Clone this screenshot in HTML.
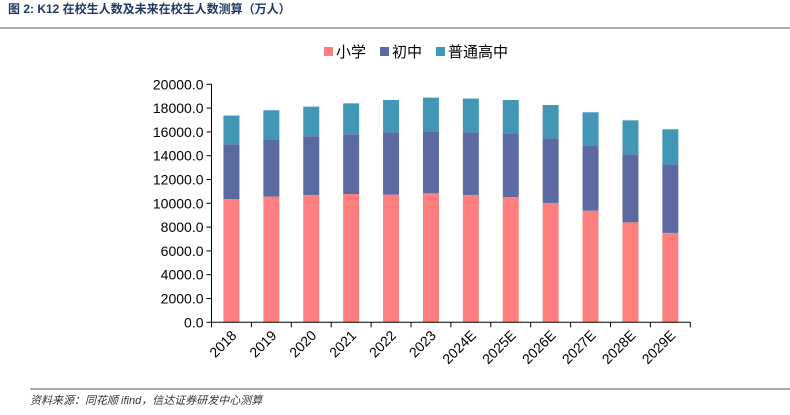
<!DOCTYPE html>
<html><head><meta charset="utf-8"><style>
body{margin:0;background:#fff;width:790px;height:415px;overflow:hidden;font-family:"Liberation Sans","Noto Sans CJK SC",sans-serif}
</style></head><body>
<svg id="c" width="790" height="415" style="position:absolute;left:0;top:0">
<text x="8" y="13" font-size="12" font-weight="bold" fill="#1f3864" font-family="Liberation Sans,Noto Sans CJK SC,sans-serif">图 2:  K12 在校生人数及未来在校生人数测算（万人）</text>
<line x1="0" y1="28" x2="790" y2="28" stroke="#555" stroke-width="1"/>
<line x1="30" y1="389" x2="790" y2="389" stroke="#555" stroke-width="1"/>
<text x="30" y="404" font-size="11" font-style="italic" fill="#333">资料来源：同花顺 ifind，信达证券研发中心测算</text>
<g id="legend"></g>
<g id="plot"></g>
</svg>
<script>
const categories=["2018","2019","2020","2021","2022","2023","2024E","2025E","2026E","2027E","2028E","2029E"];
const primary=[10360,10560,10700,10780,10730,10840,10700,10530,10030,9380,8400,7510];
const junior=[4600,4820,4930,5020,5240,5210,5270,5350,5430,5470,5720,5770];
const senior=[2410,2440,2490,2600,2710,2830,2830,2800,2800,2800,2850,2940];
const yTicks=[0,2000,4000,6000,8000,10000,12000,14000,16000,18000,20000];
const seriesNames=["小学","初中","普通高中"];
const colors=["#ff7f7f","#5b6ba1","#4197b5"];
const NS="http://www.w3.org/2000/svg";
const x0=211.5,y0=322.3,yTop=84.3,step=39.9,bw=16;
const y=v=>y0-(v/20000)*(y0-yTop);
const xc=i=>x0+step*(i+0.5);
const plot=document.getElementById('plot');
function mk(t,a,p){const e=document.createElementNS(NS,t);for(const k in a)e.setAttribute(k,a[k]);(p||plot).appendChild(e);return e;}
const series=[primary,junior,senior];
categories.forEach((c,i)=>{let base=0;series.forEach((s,j)=>{const r=mk('rect',{x:xc(i)-bw/2,y:y(base+s[i]),width:bw,height:y(base)-y(base+s[i]),fill:colors[j]});


base+=s[i];});
const tk=mk('line',{x1:x0+step*i,y1:y0,x2:x0+step*i,y2:y0+5,stroke:'#000'});
const lb=mk('text',{x:xc(i)+6,y:y0+14,'font-size':14,'text-anchor':'end',transform:`rotate(-45 ${xc(i)+6} ${y0+14})`});
lb.textContent=c;


});
mk('line',{x1:x0+step*12,y1:y0,x2:x0+step*12,y2:y0+5,stroke:'#000'});
yTicks.forEach(v=>{mk('line',{x1:x0-5,y1:y(v),x2:x0,y2:y(v),stroke:'#000'});
const t=mk('text',{x:x0-8,y:y(v)+5,'font-size':14,'text-anchor':'end'});t.textContent=v.toFixed(1);

});
const ax=mk('line',{x1:x0,y1:yTop,x2:x0,y2:y0,stroke:'#000'});


const bx=mk('line',{x1:x0,y1:y0,x2:x0+step*12,y2:y0,stroke:'#000'});


const lg=document.getElementById('legend');
const lx=[324,380,436];
seriesNames.forEach((n,j)=>{mk('rect',{x:lx[j],y:47,width:9,height:9,fill:colors[j]},lg);
const t=mk('text',{x:lx[j]+12,y:57,'font-size':15},lg);t.textContent=n;

});
</script>
</body></html>
